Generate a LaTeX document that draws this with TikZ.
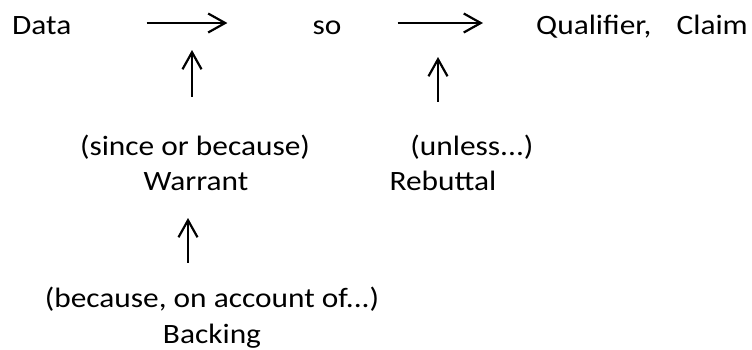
\documentclass[tikz,border=0pt]{standalone}
\usepackage{fontspec}
\setmainfont{Carlito}[FakeStretch=1.12]
\usepackage{tikz}
\usetikzlibrary{arrows.meta,positioning}

\begin{document}
\begin{tikzpicture}[x=1pt,y=1pt,
	word/.style={font=\fontsize{28}{34}\selectfont, inner sep=0pt, text height=24pt, text depth=2pt},
	arr/.style={line width=2.2pt, -{Straight Barb[length=17pt,width=19pt]}}]

	\useasboundingbox (0,0) rectangle (752,-349);

	\node (A) [word, anchor=base west] at (12,-34) {Data};
	\node (B) [word, anchor=base] at (327,-34) {so};
	\node (C) [word, anchor=base west] at (536,-34) {Qualifier,\hspace{0.9em}Claim};
	\node (a) [word, anchor=base] at (195,-155) {(since or because)};
	\node (b) [word, anchor=base] at (196,-190) {Warrant};
	\node (c) [word, anchor=base] at (472,-155) {(unless...)};
	\node (d) [word, anchor=base] at (443,-190) {Rebuttal};
	\node (e) [word, anchor=base] at (212,-307) {(because, on account of...)};
	\node (f) [word, anchor=base] at (212,-343) {Backing};

	\coordinate (x1) at (192,-50);
	\coordinate (x2) at (438,-57);
	\coordinate (x3) at (188,-218);

	\draw [arr, shorten <=75, shorten >=85] (A) -- (B);
	\draw [arr, shorten <=56, shorten >=53] (B) -- (C);
	\draw [arr, shorten <=34] (a.north -| x1) -- (x1);
	\draw [arr, shorten <=29] (c.north -| x2) -- (x2);
	\draw [arr, shorten <=20] (e.north -| x3) -- (x3);

\end{tikzpicture}
\end{document}
